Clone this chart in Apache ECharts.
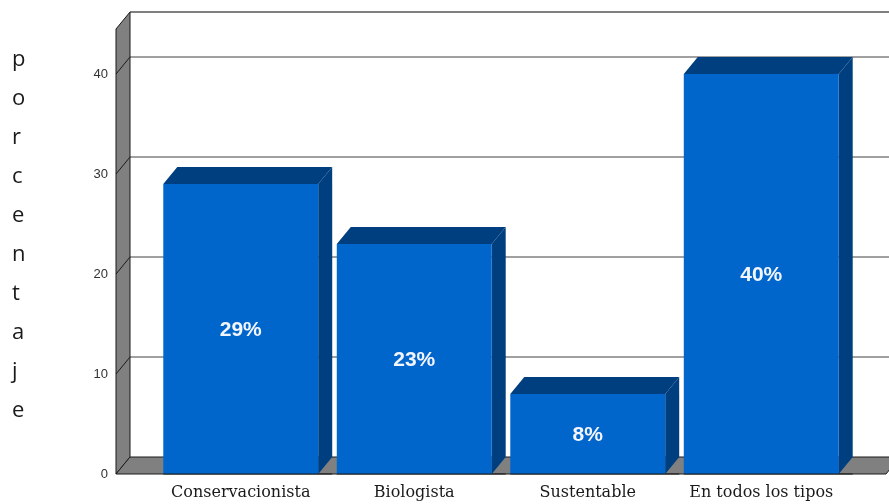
<!DOCTYPE html>
<html>
<head>
<meta charset="utf-8">
<script src="https://cdn.jsdelivr.net/npm/echarts@6/dist/echarts.min.js"></script>
<style>
  html, body { margin: 0; padding: 0; background: #ffffff; }
  #chart { width: 889px; height: 504px; }
</style>
</head>
<body>
<div id="chart"></div>
<script>
// Category names along the floor
const categories = ['Conservacionista', 'Biologista', 'Sustentable', 'En todos los tipos'];
// Percentage for each category
const values = [29, 23, 8, 40];
// Value axis range and step
const yMin = 0;
const yMax = 44.5;
const yStep = 10;
// Gridline values drawn on the back wall
const gridValues = [10, 20, 30, 40];
// Vertical axis title, one letter per line
const yTitle = 'porcentaje';

// 3D depth offset of the box (px)
const DX = 14;
const DY = 17;
// Floor margin outside the outer category bands (px)
const SIDE = 38;

const chart = echarts.init(document.getElementById('chart'), null, { renderer: 'canvas' });

function renderBox(params, api) {
  const cs = params.coordSys;
  const xL = cs.x - SIDE;
  const xR = cs.x + cs.width + SIDE;
  const y0 = api.coord([0, yMin])[1];
  const yT = api.coord([0, yMax])[1];
  const children = [];
  // back wall
  children.push({
    type: 'rect',
    shape: { x: xL + DX, y: yT - DY, width: xR - xL + 60, height: y0 - yT },
    style: { fill: '#ffffff', stroke: null }
  });
  // back wall top border
  children.push({
    type: 'line',
    shape: { x1: xL + DX, y1: yT - DY, x2: xR + DX + 60, y2: yT - DY },
    style: { stroke: '#555555', lineWidth: 1.5 }
  });
  // gridlines on back wall
  gridValues.forEach(function (v) {
    const yv = api.coord([0, v])[1];
    children.push({
      type: 'line',
      shape: { x1: xL + DX, y1: yv - DY, x2: xR + DX + 60, y2: yv - DY },
      style: { stroke: '#808080', lineWidth: 1.5 }
    });
  });
  // left wall
  children.push({
    type: 'polygon',
    shape: { points: [[xL, yT], [xL + DX, yT - DY], [xL + DX, y0 - DY], [xL, y0]] },
    style: { fill: '#808080', stroke: '#1a1a1a', lineWidth: 1 }
  });
  // gridlines across the left wall
  gridValues.forEach(function (v) {
    const yv = api.coord([0, v])[1];
    children.push({
      type: 'line',
      shape: { x1: xL, y1: yv, x2: xL + DX, y2: yv - DY },
      style: { stroke: '#1a1a1a', lineWidth: 1 }
    });
  });
  // floor
  children.push({
    type: 'polygon',
    shape: { points: [[xL, y0], [xL + DX, y0 - DY], [xR + DX, y0 - DY], [xR, y0]] },
    style: { fill: '#808080', stroke: '#1a1a1a', lineWidth: 1 }
  });
  return { type: 'group', children: children };
}

function renderBar(params, api) {
  const i = api.value(0);
  const v = api.value(1);
  const p0 = api.coord([i, 0]);
  const p1 = api.coord([i, v]);
  const bw = api.size([1, 0])[0] * 0.893;
  const x0 = p0[0] - bw / 2;
  const x1 = p0[0] + bw / 2;
  const dark = '#003F7F';
  return {
    type: 'group',
    children: [
      {
        type: 'polygon',
        shape: { points: [[x0, p1[1]], [x0 + DX, p1[1] - DY], [x1 + DX, p1[1] - DY], [x1, p1[1]]] },
        style: { fill: dark }
      },
      {
        type: 'polygon',
        shape: { points: [[x1, p1[1]], [x1 + DX, p1[1] - DY], [x1 + DX, p0[1] - DY], [x1, p0[1]]] },
        style: { fill: dark }
      },
      {
        type: 'rect',
        shape: { x: x0, y: p1[1], width: bw, height: p0[1] - p1[1] },
        style: { fill: '#0066CC' }
      },
      {
        type: 'line',
        shape: { x1: x0, y1: p0[1], x2: x1 + DX, y2: p0[1] },
        style: { stroke: '#1a1a1a', lineWidth: 1 }
      },
      {
        type: 'text',
        x: p0[0],
        y: (p0[1] + p1[1]) / 2 + 1,
        style: {
          text: v + '%',
          fill: '#F4F6FF',
          font: 'bold 21px "Liberation Sans", Arial, sans-serif',
          align: 'center',
          verticalAlign: 'middle'
        }
      }
    ]
  };
}

chart.setOption({
  animation: false,
  backgroundColor: '#ffffff',
  grid: { left: 154, right: 41, top: 29, bottom: 30, containLabel: false },
  graphic: [{
    type: 'text',
    left: 12,
    top: 40,
    style: {
      text: yTitle.split('').join('\n'),
      font: '22px "Open Sans", "Noto Sans", sans-serif',
      fill: '#1a1a1a',
      align: 'center',
      lineHeight: 39
    }
  }],
  xAxis: {
    type: 'category',
    data: categories,
    boundaryGap: true,
    axisLine: { show: false },
    axisTick: { show: false },
    axisLabel: {
      margin: 11,
      fontFamily: '"DejaVu Serif", "Liberation Serif", serif',
      fontSize: 16,
      color: '#1a1a1a',
      interval: 0
    },
    splitLine: { show: false }
  },
  yAxis: {
    type: 'value',
    min: yMin,
    max: yMax,
    interval: yStep,
    axisLine: { show: false },
    axisTick: { show: false },
    splitLine: { show: false },
    axisLabel: {
      margin: 46,
      padding: [8, 0, 0, 0],
      fontFamily: '"Liberation Sans", Arial, sans-serif',
      fontSize: 13,
      color: '#333333',
      formatter: function (v) { return v % yStep === 0 ? String(v) : ''; }
    }
  },
  series: [
    {
      type: 'custom',
      renderItem: renderBox,
      data: [[0, 0]],
      silent: true,
      z: 1
    },
    {
      type: 'custom',
      renderItem: renderBar,
      data: values.map(function (v, i) { return [i, v]; }),
      encode: { x: 0, y: 1 },
      z: 2
    }
  ]
});
</script>
</body>
</html>
